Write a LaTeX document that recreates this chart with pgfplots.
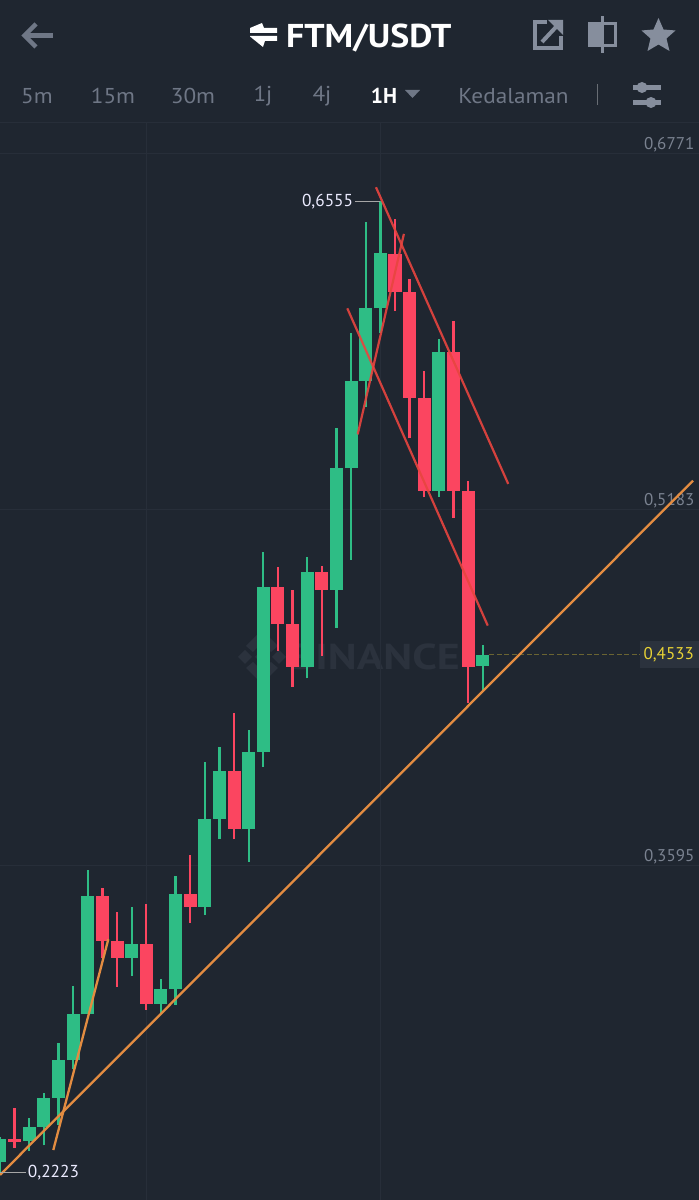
\documentclass[border=0pt]{standalone}
\usepackage{fontspec}
\setmainfont{PT Sans}
\usepackage{pgfplots}
\usepackage{pgfplotstable}
\pgfplotsset{compat=1.18}
\definecolor{bg}{HTML}{1F2630}
\definecolor{gridc}{HTML}{272E39}
\definecolor{up}{HTML}{2EBD85}
\definecolor{down}{HTML}{FB4560}
\definecolor{orangeL}{HTML}{E38C41}
\definecolor{redL}{HTML}{E8453F}
\definecolor{uigray}{HTML}{6F7786}
\definecolor{iconc}{HTML}{868E9D}
\definecolor{tickc}{HTML}{7A8290}
\definecolor{wm}{HTML}{2B323D}
\definecolor{lastp}{HTML}{6A6432}
\definecolor{lastt}{HTML}{E8D235}
\pgfplotstableread{
i open high low close
0 .2272 .2381 .2223 .2372
2 .2364 .2466 .2321 .2428
3 .2428 .2580 .2345 .2557
4 .2557 .2803 .2436 .2726
5 .2726 .3056 .2684 .2929
6 .2929 .3573 .2929 .3457
9 .3182 .3407 .3101 .3242
11 .2975 .3085 .2931 .3041
12 .3041 .3546 .2971 .3466
14 .3409 .4056 .3372 .3802
15 .3802 .4123 .3710 .4016
17 .3757 .4197 .3609 .4101
18 .4101 .4990 .4034 .4836
21 .4480 .4968 .4428 .4901
23 .4822 .5543 .4654 .5365
24 .5365 .5967 .4956 .5754
25 .5754 .6464 .5639 .6078
26 .6078 .6555 .5969 .6323
30 .5263 .5941 .5238 .5885
33 .4484 .4576 .4368 .4533
}\upT
\pgfplotstableread{
i open high low close
1 .2372 .2510 .2332 .2361
7 .3457 .3491 .3179 .3258
8 .3258 .3387 .3052 .3182
10 .3242 .3421 .2949 .2975
13 .3466 .3640 .3338 .3409
16 .4016 .4272 .3710 .3757
19 .4836 .4923 .4551 .4669
20 .4669 .4822 .4390 .4480
22 .4901 .4929 .4529 .4822
27 .6320 .6475 .6066 .6152
28 .6152 .6210 .5498 .5677
29 .5677 .5798 .5235 .5263
31 .5885 .6023 .5142 .5262
32 .5262 .5309 .4319 .4480
}\downT
\begin{document}
\begin{tikzpicture}[x=1pt,y=1pt]
\useasboundingbox (0,0) rectangle (699,1200);
\fill[bg] (0,0) rectangle (699,1200);
% watermark
\begin{scope}[shift={(0,1200)},y=-1pt]
\node[text=wm,font=\fontsize{36}{36}\selectfont\bfseries,anchor=east,inner sep=0pt,xscale=1.22] at (460,657) {BINANCE};
\fill[wm] (238,657) -- (245,650) -- (252,657) -- (245,664) -- cycle;
\fill[wm] (262,630) -- (278,646) -- (271,652) -- (262,643) -- (253,652) -- (246,646) -- cycle;
\fill[wm] (262,684) -- (278,668) -- (271,662) -- (262,671) -- (253,662) -- (246,668) -- cycle;
\fill[wm] (262,650) -- (269,657) -- (262,664) -- (255,657) -- cycle;
\fill[wm] (279,650) -- (286,657) -- (279,664) -- (272,657) -- cycle;
\end{scope}
\begin{axis}[
  at={(0,0)},anchor=south west,
  scale only axis,width=699pt,height=1200pt,
  xmin=0,xmax=47.78,ymin=0.21011,ymax=0.7453,
  axis line style={draw=none},
  major tick length=0pt,
  xtick={10,26},xticklabels={},
  ytick={0.3595,0.5183,0.6771},
  grid=major,major grid style={gridc,line width=0.8pt},
  ytick pos=right,yticklabel pos=right,
  yticklabel style={anchor=south east,xshift=-4.5pt,yshift=0.5pt,text=tickc,font=\fontsize{17}{17}\selectfont,inner sep=0pt,
    /pgf/number format/.cd,fixed,fixed zerofill,precision=4,use comma,assume math mode=true},
  clip=true,
]
% wicks
\addplot[draw=none,mark=none,forget plot,error bars/.cd,y dir=plus,y explicit,error mark=none,
  error bar style={draw=up,line width=2.3pt}]
  table[x=i,y=low,y error plus expr=\thisrow{high}-\thisrow{low}] {\upT};
\addplot[draw=none,mark=none,forget plot,error bars/.cd,y dir=plus,y explicit,error mark=none,
  error bar style={draw=down,line width=2.3pt}]
  table[x=i,y=low,y error plus expr=\thisrow{high}-\thisrow{low}] {\downT};
% bodies
\addplot[draw=none,mark=none,forget plot,error bars/.cd,y dir=plus,y explicit,error mark=none,
  error bar style={draw=up,line width=13pt}]
  table[x=i,y=open,y error plus expr=\thisrow{close}-\thisrow{open}] {\upT};
\addplot[draw=none,mark=none,forget plot,error bars/.cd,y dir=plus,y explicit,error mark=none,
  error bar style={draw=down,line width=13pt}]
  table[x=i,y=close,y error plus expr=\thisrow{open}-\thisrow{close}] {\downT};
% last price
\addplot[dash pattern=on 5pt off 2.5pt,color=lastp,line width=1pt] coordinates {(33.45,.4533)(43.8,.4533)};
% trend lines
\addplot[orangeL,line width=2.3pt] coordinates {(0,.2213)(47.37,.5309)};
\addplot[orangeL,line width=2.3pt] coordinates {(3.643,.2324)(7.403,.3264)};
\addplot[redL,line width=2.2pt,opacity=.9] coordinates {(25.70,.6618)(34.74,.5295)};
\addplot[redL,line width=2.2pt,opacity=.9] coordinates {(23.74,.6078)(33.34,.4663)};
\addplot[redL,line width=2.2pt,opacity=.9] coordinates {(24.45,.5516)(27.61,.6410)};
% high / low markers
\addplot[gray!70!white,line width=1pt] coordinates {(24.3,.6555)(26,.6555)};
\addplot[gray!70!white,line width=1pt] coordinates {(0,.2223)(1.8,.2223)};
\node[anchor=east,inner sep=0pt,text=white!92!blue,font=\fontsize{17.3}{17.3}\selectfont] at (axis cs:24.15,.6555) {0,6555};
\node[anchor=west,inner sep=0pt,text=white!92!blue,font=\fontsize{17.3}{17.3}\selectfont] at (axis cs:1.9,.2223) {0,2223};
\node[anchor=east,fill=wm,minimum width=57pt,minimum height=27pt,inner sep=0pt,align=right,text=lastt,font=\fontsize{17}{17}\selectfont] at (axis cs:47.78,.4533) {\hspace*{4pt}0,4533\hspace*{5pt}};
\end{axis}
% top bar
\begin{scope}[shift={(0,1200)},y=-1pt]
\fill[bg] (0,0) rectangle (699,122.5);
\draw[gridc,line width=1pt] (0,123) -- (699,123);
% back arrow
\draw[uigray,line width=4.5pt] (53,35.5) -- (25,35.5);
\draw[uigray,line width=4.5pt] (36,24) -- (24.5,35.5) -- (36,47);
% swap
\fill[white] (250,28) -- (262,23) -- (264,28) -- (277,28) -- (277,33) -- (250,33) -- cycle;
\fill[white] (250,36) -- (277,36) -- (277,41) -- (265,41) -- (263,47) -- (250,36.5) -- cycle;
\node[text=white,anchor=west,inner sep=0pt,xscale=1.085,font=\fontsize{33}{33}\selectfont\bfseries] at (286,38.5) {FTM/USDT};
% share icon
\draw[iconc,line width=4pt] (547,22) -- (535,22) -- (535,48) -- (561,48) -- (561,36);
\draw[iconc,line width=4pt] (542,42) -- (556,27);
\fill[iconc] (548,20) -- (563,20) -- (563,35) -- cycle;
% candle icon
\fill[iconc] (600.5,16.5) rectangle (603.5,53);
\fill[iconc] (588,22) rectangle (603,47);
\draw[iconc,line width=3.5pt] (603,23.7) -- (615.5,23.7) -- (615.5,45.3) -- (603,45.3);
% star
\fill[iconc] (658.5,18) -- (663.5,29.5) -- (675.5,30.5) -- (666.5,38.5) -- (669.5,51) -- (658.5,44.5) -- (647.5,51) -- (650.5,38.5) -- (641.5,30.5) -- (653.5,29.5) -- cycle;
% periods
\def\ui#1#2{\node[text=uigray,inner sep=0pt,xscale=1.08,font=\fontsize{21.5}{21.5}\selectfont] at (#1,96) {#2};}
\ui{37}{5m}\ui{113}{15m}\ui{193}{30m}\ui{263}{1j}\ui{322}{4j}\ui{513.5}{Kedalaman}
\node[text=white,inner sep=0pt,font=\fontsize{21.5}{21.5}\selectfont\bfseries] at (384,96) {1H};
\fill[uigray] (405,90) -- (420,90) -- (412.5,98) -- cycle;
\draw[gridc!70!white,line width=1pt] (597,84) -- (597,105);
% sliders
\fill[iconc] (633,85) rectangle (661,90);
\fill[iconc] (633,100) rectangle (661,105);
\fill[iconc] (642,87.5) circle (5.5);
\fill[iconc] (651,102.5) circle (5.5);
\end{scope}
\end{tikzpicture}
\end{document}
